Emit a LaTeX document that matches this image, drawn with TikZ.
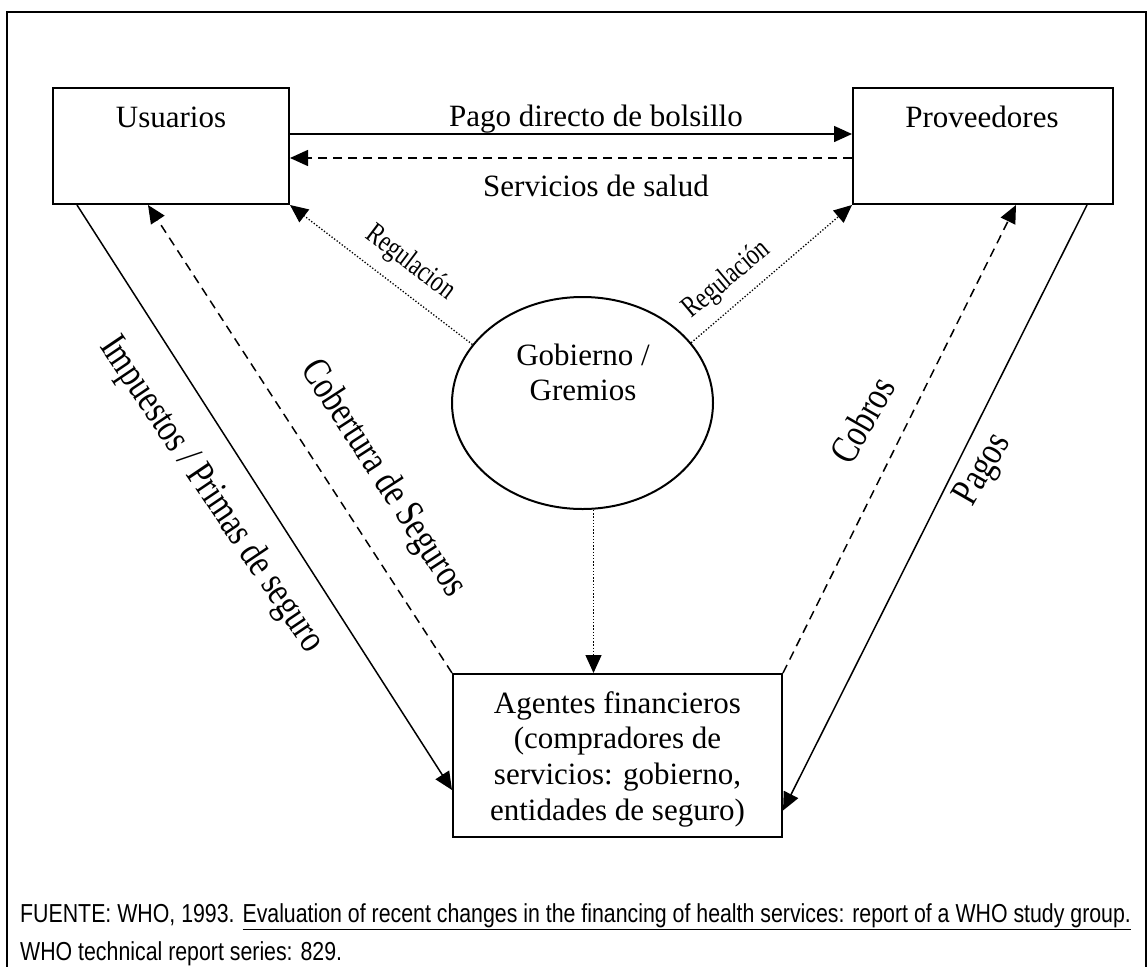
\documentclass[tikz,border=0pt]{standalone}
\usepackage{fontspec}
\setmainfont{Liberation Serif}
\newfontfamily\condserif[FakeStretch=0.79]{Liberation Serif}
\newfontfamily\regserif[FakeStretch=0.76]{Liberation Serif}
\newfontfamily\narrowsans[FakeStretch=0.82]{Liberation Sans}
\usetikzlibrary{arrows.meta,calc,shapes.geometric}
\tikzset{
  box/.style={draw, line width=2pt, rectangle, inner sep=0pt},
  lbl/.style={inner sep=0pt, font=\fontsize{31}{35.7}\selectfont},
  rotlbl/.style={inner sep=0pt, font=\condserif\fontsize{40}{44}\selectfont},
  reglbl/.style={inner sep=0pt, font=\regserif\fontsize{30}{33}\selectfont},
  tip/.style={-{Triangle[length=18pt,width=16pt]}},
  solidarr/.style={tip, line width=1.5pt},
  dasharr/.style={tip, line width=1.5pt, dash pattern=on 9pt off 6pt},
  dotarr/.style={tip, line width=1.3pt, dash pattern=on 1.3pt off 1.9pt},
  srcfont/.style={inner sep=0pt, font=\narrowsans\fontsize{26}{30}\selectfont}
}
\begin{document}
\begin{tikzpicture}[x=1pt,y=-1pt]
\useasboundingbox (0,0) rectangle (1147,966);
% frame
\draw[line width=2pt] (7,970) -- (7,12) -- (1146,12) -- (1146,970);
% boxes
\node[box, minimum width=236pt, minimum height=116pt] (usu) at (171,146) {};
\node[box, minimum width=260pt, minimum height=116pt] (prov) at (983,146) {};
\node[box, minimum width=329pt, minimum height=163pt] (agt) at (617.5,755.5) {};
\node[draw, ellipse, line width=2pt, inner sep=0pt, minimum width=261pt, minimum height=212pt] (gob) at (582.5,403) {};
% box texts
\node[lbl, anchor=base] (usut) at (171,127) {Usuarios};
\node[lbl, anchor=base] (provt) at (982,127) {Proveedores};
\node[lbl, anchor=base] (gobt) at (583,365) {\begin{tabular}[t]{@{}c@{}}Gobierno /\\Gremios\end{tabular}};
\node[lbl, anchor=base] (agtt) at (617.5,713) {\begin{tabular}[t]{@{}c@{}}Agentes financieros\\(compradores de\\servicios: gobierno,\\entidades de seguro)\end{tabular}};
% horizontal arrows
\draw[solidarr] ($(usu.east)+(0,-12)$) -- ($(prov.west)+(0,-12)$);
\draw[dasharr] ($(prov.west)+(0,12)$) -- ($(usu.east)+(0,12)$);
\node[lbl, anchor=base] (pago) at (596,126) {Pago directo de bolsillo};
\node[lbl, anchor=base] (serv) at (596,196) {Servicios de salud};
% regulation
\draw[dotarr] (gob.152) -- (usu.south east);
\draw[dotarr] (gob.29) -- (prov.south west);
\coordinate (gobout) at ($(gob.south)+(11,0)$);
\draw[dotarr] (gobout) -- (gobout |- agt.north);
\node[reglbl, rotate=-37] (reg1) at (410,263) {Regulación};
\node[reglbl, rotate=40] (reg2) at (727,280) {Regulación};
% diagonal arrows
\draw[solidarr] ($(usu.south west)+(25,0)$) -- ($(agt.west)+(0,34.5)$);
\draw[dasharr] (agt.north west) -- ($(usu.south west)+(96,0)$);
\draw[dasharr] (agt.north east) -- ($(prov.south west)+(164,0)$);
\draw[solidarr] ($(prov.south west)+(235,0)$) -- ($(agt.east)+(0,55)$);
\node[rotlbl, rotate=-56] (imp) at (211,495) {Impuestos / Primas de seguro};
\node[rotlbl, rotate=-57] (cob) at (383,479) {Cobertura de Seguros};
\node[rotlbl, rotate=60] (cobros) at (862,420) {Cobros};
\node[rotlbl, rotate=60] (pagos) at (984,470) {Pagos};
% source
\node[srcfont, anchor=base west] (src1) at (20,922) {FUENTE: WHO, 1993. \underline{Evaluation of recent changes in the financing of health services: report of a WHO study group.}};
\node[srcfont, anchor=base west] (src2) at (20,960) {WHO technical report series: 829.};
\end{tikzpicture}
\end{document}
